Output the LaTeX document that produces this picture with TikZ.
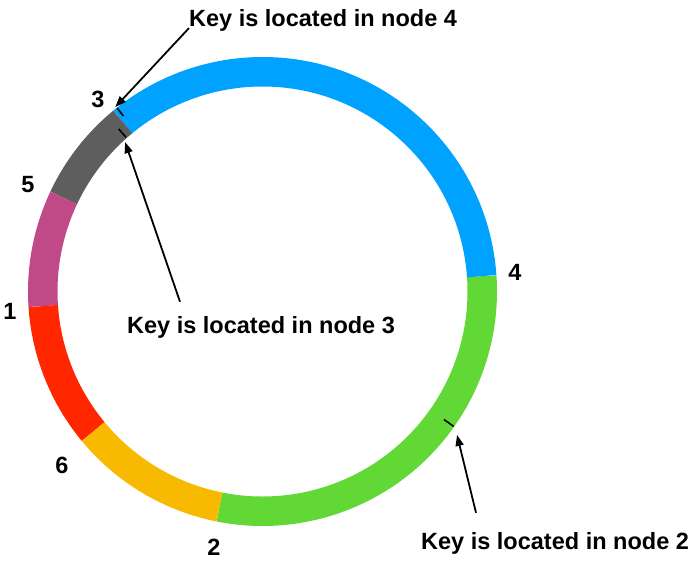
\documentclass[tikz,border=0pt]{standalone}
\usepackage{fontspec}
\setmainfont{Liberation Sans}
\usetikzlibrary{arrows.meta}
\definecolor{ringblue}{RGB}{0,162,255}
\definecolor{ringgreen}{RGB}{97,216,54}
\definecolor{ringorange}{RGB}{248,186,0}
\definecolor{ringred}{RGB}{255,38,0}
\definecolor{ringpink}{RGB}{192,74,136}
\definecolor{ringgray}{RGB}{94,94,94}
\tikzset{
  seg/.style={line width=29.5pt},
  keymark/.style={line width=1.6pt},
  lbl/.style={font=\bfseries\fontsize{23.5}{28}\selectfont, inner sep=0pt},
  ptr/.style={-{Triangle[length=11pt,width=8pt]}, line width=1.8pt}
}

\begin{document}
\begin{tikzpicture}[x=1pt,y=1pt]
      \useasboundingbox (0,0) rectangle (698,-566);
      \coordinate (c) at (262.5,-291.5);
      % Ring
      \foreach \a/\b/\col in {258.7/364/ringgreen, 4/129.5/ringblue,
          129.5/154.8/ringgray, 154.8/183.8/ringpink,
          183.8/219.6/ringred, 219.6/258.7/ringorange}
        \draw[seg,\col] ([shift={(\a:219.75)}]c)
          arc[start angle=\a,end angle=\b,radius=219.75];
      % Keys
      \draw[keymark] ([shift={(128.4:224)}]c) -- ([shift={(128.4:234)}]c);
      \draw[keymark] ([shift={(131.5:206)}]c) -- ([shift={(131.5:217)}]c);
      \draw[keymark] ([shift={(324.8:222)}]c) -- ([shift={(324.8:234)}]c);
      \coordinate (t4) at ([shift={(128.6:236)}]c);
      \coordinate (t3) at ([shift={(132.6:203)}]c);
      \coordinate (t2) at ([shift={(323.6:241.7)}]c);
      % Node numbers
      \node[lbl,anchor=base] (n3) at (98,-107) {3};
      \node[lbl,anchor=base] (n5) at (28,-192) {5};
      \node[lbl,anchor=base] (n1) at (10,-319) {1};
      \node[lbl,anchor=base] (n6) at (62,-473) {6};
      \node[lbl,anchor=base] (n2) at (214,-555) {2};
      \node[lbl,anchor=base] (n4) at (515,-280) {4};
      % Labels
      \node[lbl,anchor=base west] (k4) at (189,-26) {Key is located in node 4};
      \node[lbl,anchor=base west] (k3) at (127,-333) {Key is located in node 3};
      \node[lbl,anchor=base west] (k2) at (421,-549) {Key is located in node 2};
      % Arrows
      \draw[ptr] ([yshift=3pt]k4.south west) -- (t4);
      \draw[ptr] ([xshift=53pt,yshift=14pt]k3.north west) -- (t3);
      \draw[ptr] ([xshift=55pt,yshift=19pt]k2.north west) -- (t2);
    \end{tikzpicture}
\end{document}
